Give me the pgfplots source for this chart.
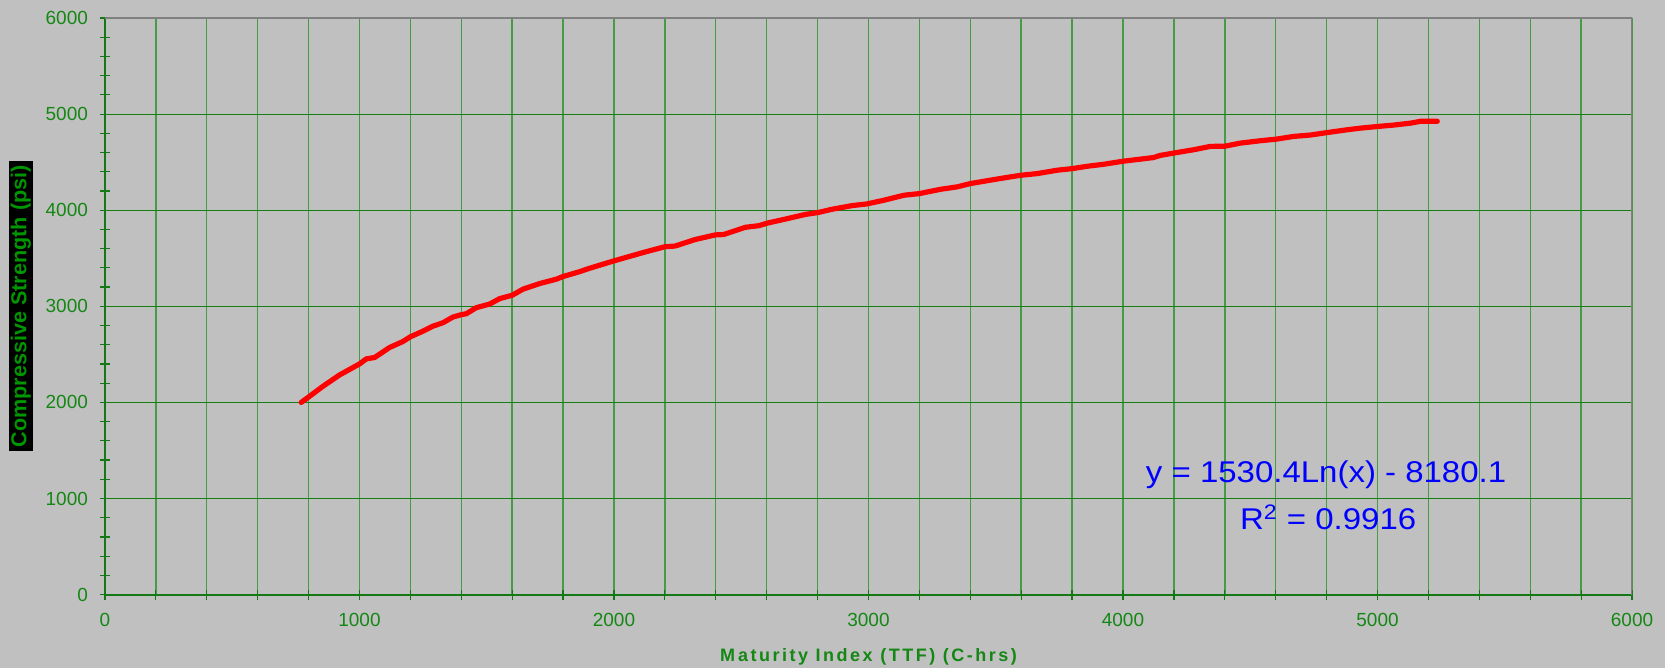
\documentclass[border=0pt]{standalone}
\usepackage{fontspec}
\setmainfont{Liberation Sans}
\newfontfamily\lblfont[LetterSpace=14]{Liberation Sans}
\usepackage{graphicx}
\usepackage{pgfplots}
\pgfplotsset{compat=1.18}
\definecolor{bg}{RGB}{192,192,192}
\definecolor{gridv}{RGB}{70,155,70}
\definecolor{gridh}{RGB}{20,125,20}
\definecolor{axgreen}{RGB}{20,120,20}
\definecolor{txtgreen}{RGB}{20,135,20}
\definecolor{lblgreen}{RGB}{0,150,0}
\definecolor{bordergray}{RGB}{128,128,128}
\pgfplotstableread{
x y
771 2000
800 2056
856 2167
922 2286
1000 2400
1027 2453
1060 2468
1118 2571
1171 2634
1200 2683
1250 2742
1289 2794
1328 2829
1367 2888
1400 2913
1420 2923
1459 2986
1512 3024
1551 3080
1600 3115
1642 3178
1708 3237
1773 3282
1800 3310
1863 3359
1902 3394
2000 3473
2122 3565
2200 3620
2240 3627
2319 3695
2398 3743
2431 3747
2516 3822
2569 3839
2603 3866
2674 3908
2752 3956
2802 3976
2857 4010
2936 4048
2993 4065
3061 4104
3140 4156
3200 4173
3284 4218
3349 4243
3400 4277
3493 4319
3558 4347
3601 4364
3663 4381
3741 4416
3801 4433
3859 4457
3924 4478
4001 4510
4055 4527
4120 4548
4146 4570
4200 4595
4277 4629
4343 4664
4400 4666
4461 4698
4540 4723
4604 4740
4671 4768
4736 4782
4805 4809
4881 4837
4933 4854
5004 4872
5064 4886
5130 4906
5169 4925
5235 4925
}\curve
\begin{document}
\begin{tikzpicture}
\fill[bg] (-52.5pt,-36.5pt) rectangle (780.5pt,297.5pt);
\begin{axis}[
  scale only axis,
  width=764pt, height=288.5pt,
  xmin=0, xmax=6000, ymin=0, ymax=6000,
  axis x line*=bottom, axis y line*=left,
  axis line style={draw=axgreen, line width=0.9pt},
  xtick={0,1000,...,6000}, ytick={0,1000,...,6000},
  minor x tick num=4, minor y tick num=4,
  xmajorgrids, xminorgrids, ymajorgrids,
  x grid style={draw=gridv, line width=0.7pt},
  minor x grid style={draw=gridv, line width=0.7pt},
  y grid style={draw=gridh, line width=0.55pt},
  tick align=center,
  major tick length=5pt, minor tick length=5pt,
  every tick/.style={draw=axgreen, line width=0.6pt},
  /pgf/number format/assume math mode=true,
  /pgf/number format/1000 sep={},
  tick label style={font=\fontsize{9.5}{10}\selectfont, text=txtgreen},
  yticklabel style={xshift=-2.5pt},
  xticklabel style={yshift=-3.5pt},
  xlabel={\bfseries\lblfont M\kern1.5pt aturity Index (TTF) (C-hrs)},
  xlabel style={font=\fontsize{9}{10}\selectfont, text=txtgreen, at={(axis description cs:0.5,0)}, anchor=base, yshift=-33.5pt},
  ylabel={\scalebox{1.2}{\bfseries Compressive Strength (psi)}},
  ylabel style={font=\fontsize{9}{10}\selectfont, text=lblgreen, fill=black, minimum width=145pt, minimum height=12pt, inner sep=0pt, at={(axis description cs:-0.055,0.5)}, anchor=center},
]
\addplot[red, line width=2.6pt, line join=round, line cap=round] table[x=x,y=y] {\curve};
\draw[bordergray, line width=1pt] (rel axis cs:0,1) -- (rel axis cs:1,1) -- (rel axis cs:1,0);
\node[text=blue, font=\fontsize{15}{17}\selectfont, anchor=base] at (axis cs:4798,1165) {\scalebox{1.1}[1]{y = 1530.4Ln(x) - 8180.1}};
\node[text=blue, font=\fontsize{15}{17}\selectfont, anchor=base] at (axis cs:4806,676) {\scalebox{1.1}[1]{R\textsuperscript{2} = 0.9916}};
\end{axis}
\pgfresetboundingbox
\path[use as bounding box] (-52.5pt,-36.5pt) rectangle (780.5pt,297.5pt);
\end{tikzpicture}
\end{document}
